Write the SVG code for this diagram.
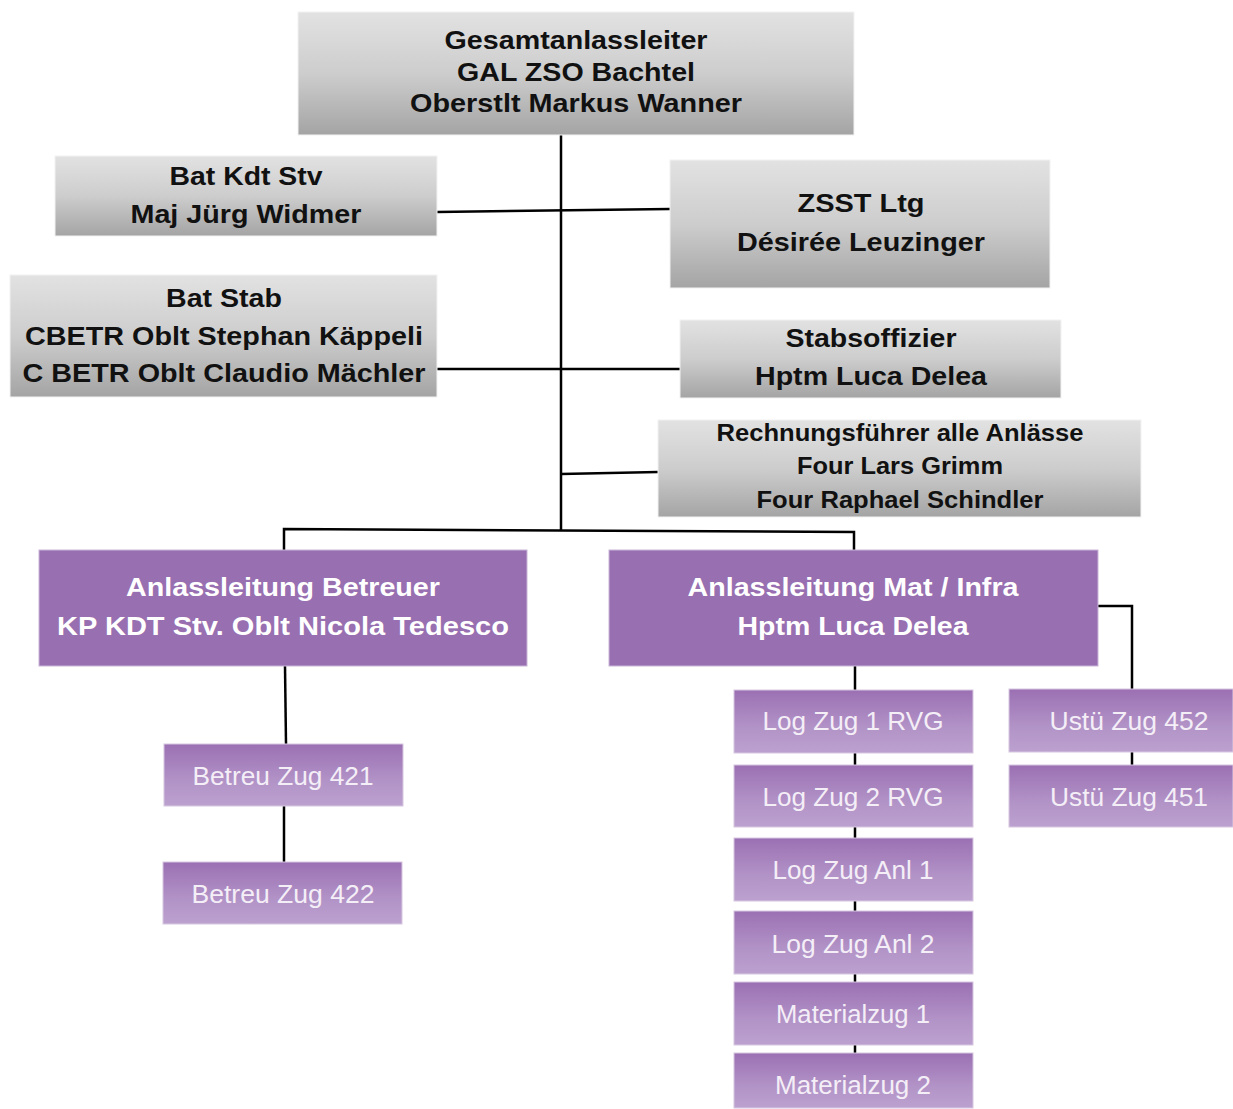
<svg xmlns="http://www.w3.org/2000/svg" width="1233" height="1109" viewBox="0 0 1233 1109">
<defs>
<linearGradient id="gGray" x1="0" y1="0" x2="0" y2="1">
<stop offset="0" stop-color="#e2e2e2"/>
<stop offset="0.5" stop-color="#cdcdcd"/>
<stop offset="1" stop-color="#a4a4a4"/>
</linearGradient>
<linearGradient id="gPurple" x1="0" y1="0" x2="0" y2="1">
<stop offset="0" stop-color="#9b70b3"/>
<stop offset="0.6" stop-color="#b293c7"/>
<stop offset="1" stop-color="#bca1cf"/>
</linearGradient>
</defs>
<style>
.gray{fill:url(#gGray);stroke:#f2f2f2;stroke-width:1}
.lead{fill:#986fb0;stroke:#c9b6d8;stroke-width:1}
.unit{fill:url(#gPurple);stroke:#d6c8e0;stroke-width:1}
.tb{font-family:"Liberation Sans",Arial,sans-serif;font-weight:bold;font-size:26px;fill:#111;text-anchor:middle}
.ts{font-size:23px}
.tw{fill:#ffffff}
.tu{font-family:"Liberation Sans",Arial,sans-serif;font-size:25.5px;fill:#f4eef7;text-anchor:middle}
.ln{fill:none;stroke:#000;stroke-width:2.5}
</style>
<rect width="1233" height="1109" fill="#ffffff"/>
<g id="connectors">
<path class="ln" d="M561,135 V530"/>
<path class="ln" d="M437,212 L670,209"/>
<path class="ln" d="M437,369 H680"/>
<path class="ln" d="M561,474 L658,472"/>
<path class="ln" d="M284,550 V529 L854,532 V550"/>
<path class="ln" d="M285,666 L286,744"/>
<path class="ln" d="M284,806 V862"/>
<path class="ln" d="M855,666 V1060"/>
<path class="ln" d="M1098,606 H1132 V770"/>
</g>
<g id="gal">
<rect class="gray" x="298" y="12" width="556" height="123"/>
<text class="tb" x="576" y="49" textLength="263" lengthAdjust="spacingAndGlyphs">Gesamtanlassleiter</text>
<text class="tb" x="576" y="81" textLength="238" lengthAdjust="spacingAndGlyphs">GAL ZSO Bachtel</text>
<text class="tb" x="576" y="112" textLength="332" lengthAdjust="spacingAndGlyphs">Oberstlt Markus Wanner</text>
</g>
<g id="batkdt">
<rect class="gray" x="55" y="156" width="382" height="80"/>
<text class="tb" x="246" y="185" textLength="153" lengthAdjust="spacingAndGlyphs">Bat Kdt Stv</text>
<text class="tb" x="246" y="223" textLength="231" lengthAdjust="spacingAndGlyphs">Maj Jürg Widmer</text>
</g>
<g id="batstab">
<rect class="gray" x="10" y="275" width="427" height="122"/>
<text class="tb" x="224" y="307" textLength="116" lengthAdjust="spacingAndGlyphs">Bat Stab</text>
<text class="tb" x="224" y="345" textLength="398" lengthAdjust="spacingAndGlyphs">CBETR Oblt Stephan Käppeli</text>
<text class="tb" x="224" y="382" textLength="403" lengthAdjust="spacingAndGlyphs">C BETR Oblt Claudio Mächler</text>
</g>
<g id="zsst">
<rect class="gray" x="670" y="160" width="380" height="128"/>
<text class="tb" x="861" y="212" textLength="127" lengthAdjust="spacingAndGlyphs">ZSST Ltg</text>
<text class="tb" x="861" y="251" textLength="248" lengthAdjust="spacingAndGlyphs">Désirée Leuzinger</text>
</g>
<g id="stabsoffizier">
<rect class="gray" x="680" y="320" width="381" height="78"/>
<text class="tb" x="871" y="347" textLength="171" lengthAdjust="spacingAndGlyphs">Stabsoffizier</text>
<text class="tb" x="871" y="385" textLength="232" lengthAdjust="spacingAndGlyphs">Hptm Luca Delea</text>
</g>
<g id="rechnungsfuehrer">
<rect class="gray" x="658" y="420" width="483" height="97"/>
<text class="tb ts" x="900" y="441" textLength="367" lengthAdjust="spacingAndGlyphs">Rechnungsführer alle Anlässe</text>
<text class="tb ts" x="900" y="474" textLength="206" lengthAdjust="spacingAndGlyphs">Four Lars Grimm</text>
<text class="tb ts" x="900" y="508" textLength="287" lengthAdjust="spacingAndGlyphs">Four Raphael Schindler</text>
</g>
<g id="al-betreuer">
<rect class="lead" x="39" y="550" width="488" height="116"/>
<text class="tb tw" x="283" y="596" textLength="314" lengthAdjust="spacingAndGlyphs">Anlassleitung Betreuer</text>
<text class="tb tw" x="283" y="635" textLength="452" lengthAdjust="spacingAndGlyphs">KP KDT Stv. Oblt Nicola Tedesco</text>
</g>
<g id="al-mat-infra">
<rect class="lead" x="609" y="550" width="489" height="116"/>
<text class="tb tw" x="853" y="596" textLength="331" lengthAdjust="spacingAndGlyphs">Anlassleitung Mat / Infra</text>
<text class="tb tw" x="853" y="635" textLength="231" lengthAdjust="spacingAndGlyphs">Hptm Luca Delea</text>
</g>
<g id="betreu421">
<rect class="unit" x="164" y="744" width="239" height="62"/>
<text class="tu" x="283" y="785" textLength="181" lengthAdjust="spacingAndGlyphs">Betreu Zug 421</text>
</g>
<g id="betreu422">
<rect class="unit" x="163" y="862" width="239" height="62"/>
<text class="tu" x="283" y="903" textLength="183" lengthAdjust="spacingAndGlyphs">Betreu Zug 422</text>
</g>
<g id="log1">
<rect class="unit" x="734" y="690" width="239" height="63"/>
<text class="tu" x="853" y="730" textLength="181" lengthAdjust="spacingAndGlyphs">Log Zug 1 RVG</text>
</g>
<g id="log2">
<rect class="unit" x="734" y="765" width="239" height="62"/>
<text class="tu" x="853" y="806" textLength="181" lengthAdjust="spacingAndGlyphs">Log Zug 2 RVG</text>
</g>
<g id="loganl1">
<rect class="unit" x="734" y="838" width="239" height="63"/>
<text class="tu" x="853" y="879" textLength="161" lengthAdjust="spacingAndGlyphs">Log Zug Anl 1</text>
</g>
<g id="loganl2">
<rect class="unit" x="734" y="911" width="239" height="63"/>
<text class="tu" x="853" y="953" textLength="163" lengthAdjust="spacingAndGlyphs">Log Zug Anl 2</text>
</g>
<g id="mat1">
<rect class="unit" x="734" y="982" width="239" height="63"/>
<text class="tu" x="853" y="1023" textLength="154" lengthAdjust="spacingAndGlyphs">Materialzug 1</text>
</g>
<g id="mat2">
<rect class="unit" x="734" y="1053" width="239" height="55"/>
<text class="tu" x="853" y="1094" textLength="156" lengthAdjust="spacingAndGlyphs">Materialzug 2</text>
</g>
<g id="ustue452">
<rect class="unit" x="1009" y="689" width="224" height="63"/>
<text class="tu" x="1129" y="730" textLength="159" lengthAdjust="spacingAndGlyphs">Ustü Zug 452</text>
</g>
<g id="ustue451">
<rect class="unit" x="1009" y="765" width="224" height="62"/>
<text class="tu" x="1129" y="806" textLength="158" lengthAdjust="spacingAndGlyphs">Ustü Zug 451</text>
</g>
</svg>
